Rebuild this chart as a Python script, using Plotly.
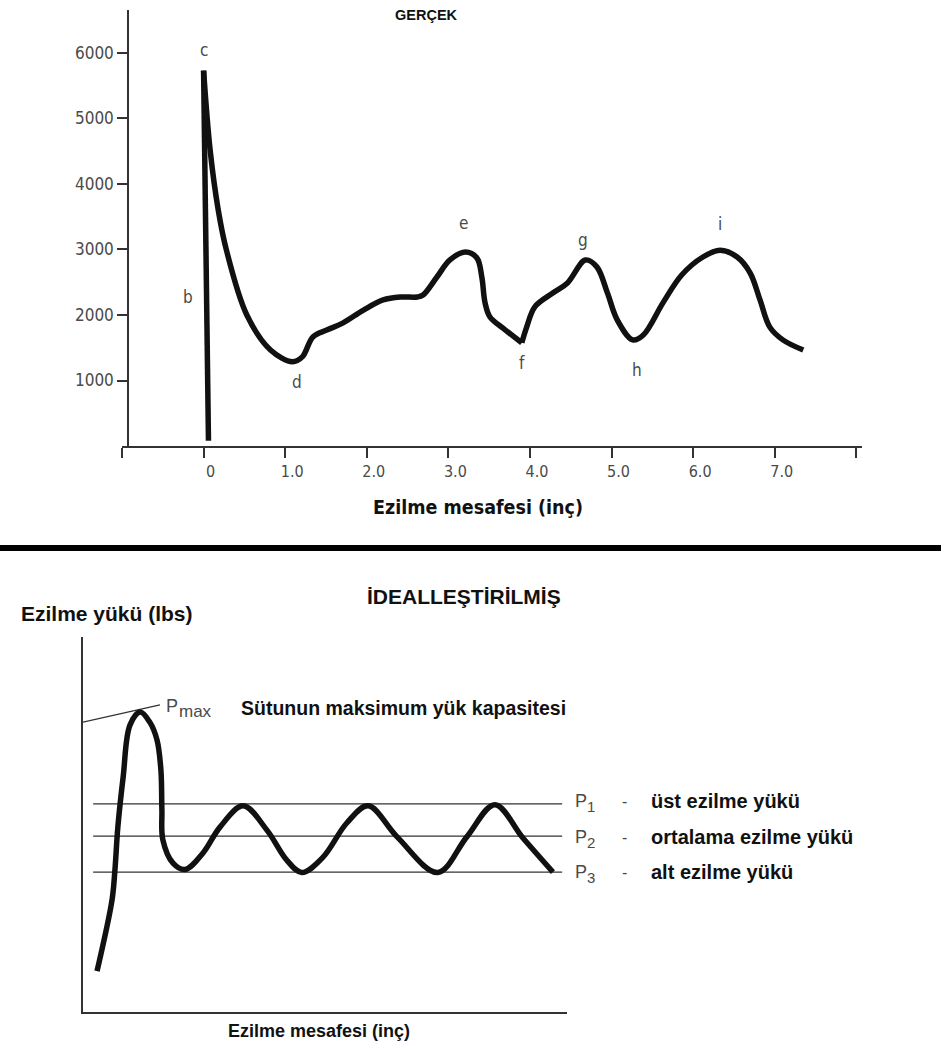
import plotly.graph_objects as go

# ---------------- data: measured crush test (upper panel) ----------------
# elastic rise b: from the start of the stroke up to the peak load c
rise_x = [0.06, 0.0]
rise_y = [80, 5730]

# collapse from c through d and e down to f
fold1_x = [0.0, 0.08, 0.18, 0.28, 0.53, 0.82, 1.09, 1.21,
           1.34, 1.51, 1.71, 1.96, 2.20, 2.41, 2.62, 2.69, 2.86, 3.02, 3.21, 3.35,
           3.41, 3.45, 3.51, 3.67, 3.90]
fold1_y = [5730, 4520, 3600, 2990, 2000, 1465, 1285, 1360,
           1665, 1770, 1880, 2075, 2230, 2275, 2275, 2305, 2580, 2840, 2960, 2870,
           2580, 2185, 1970, 1800, 1575]

# from f through g, h and i to the end of the stroke
fold2_x = [3.90, 3.96, 4.06, 4.28, 4.46, 4.68, 4.82, 4.95, 5.07, 5.26, 5.39, 5.63,
           5.86, 6.12, 6.33, 6.54, 6.70, 6.82, 6.94, 7.10, 7.35]
fold2_y = [1575, 1815, 2125, 2335, 2490, 2840, 2735, 2335, 1925, 1620, 1695, 2185,
           2610, 2885, 2990, 2885, 2640, 2230, 1815, 1620, 1465]

# point letters and where they sit
point_names = ["c", "b", "d", "e", "f", "g", "h", "i"]
point_x = [0.0, -0.19, 1.15, 3.18, 3.90, 4.65, 5.31, 6.33]
point_y = [6050, 2275, 980, 3405, 1265, 3145, 1160, 3390]

x_tick_vals = [0, 1, 2, 3, 4, 5, 6, 7]
x_tick_text = ["0", "1.0", "2.0", "3.0", "4.0", "5.0", "6.0", "7.0"]
y_tick_vals = [1000, 2000, 3000, 4000, 5000, 6000]
y_tick_text = ["1000", "2000", "3000", "4000", "5000", "6000"]

# ---------------- data: idealised curve (lower panel, arbitrary units) ----------------
ideal_x = [2.9, 6.0, 6.6, 7.2, 8.3, 9.7, 11.8, 13.8, 15.3, 16.1, 16.3, 16.5, 18.6,
           21.1, 24.8, 28.3, 33.1, 38.0, 42.1, 45.2, 49.6, 54.5, 58.9, 64.9, 73.3,
           79.3, 85.1, 90.9, 97.1]
ideal_y = [10.9, 29.9, 37.9, 49.3, 62.7, 76.5, 80.0, 77.3, 72.5, 64.5, 53.9, 45.9,
           39.7, 38.0, 42.4, 49.3, 55.0, 48.5, 40.5, 37.2, 41.3, 50.4, 55.0, 46.7,
           37.2, 46.7, 55.3, 46.4, 37.3]

level_subs = ["1", "2", "3"]
level_desc = ["üst ezilme yükü", "ortalama ezilme yükü", "alt ezilme yükü"]
level_y = [55.5, 46.9, 37.3]
level_x = [2.1, 99.0]

pmax_x = [0.0, 15.9]
pmax_y = [77.3, 81.9]

# ---------------- styling ----------------
NARROW = "Liberation Sans Narrow, Arial Narrow, DejaVu Sans Condensed, sans-serif"
ARIAL = "Liberation Sans, Arial, sans-serif"
INK = "#111111"
AXIS = "#333333"
TEXT = "#4a4a4a"

W, H = 941, 1052


def px(x):
    return x / W


def py(y):
    return 1 - y / H


fig = go.Figure()

curve_line = dict(color=INK, width=5.5)
fig.add_trace(go.Scatter(x=rise_x, y=rise_y, mode="lines", line=curve_line,
                         xaxis="x", yaxis="y"))
fig.add_trace(go.Scatter(x=fold1_x, y=fold1_y, mode="lines",
                         line=dict(curve_line, shape="spline", smoothing=1.0),
                         xaxis="x", yaxis="y"))
fig.add_trace(go.Scatter(x=fold2_x, y=fold2_y, mode="lines",
                         line=dict(curve_line, shape="spline", smoothing=1.0),
                         xaxis="x", yaxis="y"))

# idealised panel: reference levels, tangent at Pmax and the curve
for ly in level_y:
    fig.add_trace(go.Scatter(x=level_x, y=[ly, ly], mode="lines",
                             line=dict(color=AXIS, width=1.2),
                             xaxis="x2", yaxis="y2"))
fig.add_trace(go.Scatter(x=pmax_x, y=pmax_y, mode="lines",
                         line=dict(color=AXIS, width=1.4),
                         xaxis="x2", yaxis="y2"))
fig.add_trace(go.Scatter(x=ideal_x, y=ideal_y, mode="lines",
                         line=dict(color=INK, width=5.5, shape="spline", smoothing=1.0),
                         xaxis="x2", yaxis="y2"))

annotations = []
for name, x, y in zip(point_names, point_x, point_y):
    annotations.append(dict(x=x, y=y, xref="x", yref="y", text=name, showarrow=False,
                            yanchor="middle",
                            font=dict(family=NARROW, size=17, color=TEXT)))


def label(x, y, text, size, color=INK, family=ARIAL, anchor="center"):
    return dict(x=px(x), y=py(y), xref="paper", yref="paper", xanchor=anchor,
                yanchor="middle", text=text, showarrow=False,
                font=dict(family=family, size=size, color=color))


# titles and labels
annotations += [
    label(426, 15, "<b>GERÇEK</b>", 14.5),
    label(478, 507, "<b>Ezilme mesafesi (inç)</b>", 19.5, family=NARROW),
    label(464, 596, "<b>İDEALLEŞTİRİLMİŞ</b>", 21),
    label(19, 613, "<b>Ezilme yükü (lbs)</b>", 21, anchor="left"),
    label(319, 1031, "<b>Ezilme mesafesi (inç)</b>", 18),
    label(164, 706, "P", 18, TEXT, anchor="left"),
    label(177, 711, "max", 17, TEXT, anchor="left"),
    label(239, 708, "<b>Sütunun maksimum yük kapasitesi</b>", 19.5, anchor="left"),
]
for sub, desc, yy in zip(level_subs, level_desc, [801, 837, 872]):
    annotations += [
        label(573, yy, "P", 18, TEXT, anchor="left"),
        label(585, yy + 5, sub, 15, TEXT, anchor="left"),
        label(624, yy, "-", 16, TEXT),
        label(649, yy, "<b>" + desc + "</b>", 20, anchor="left"),
    ]

fig.update_layout(
    width=W, height=H,
    margin=dict(l=0, r=0, t=0, b=0),
    paper_bgcolor="white", plot_bgcolor="white",
    showlegend=False,
    annotations=annotations,
    shapes=[dict(type="line", xref="paper", yref="paper", x0=0, x1=1,
                 y0=py(548), y1=py(548), line=dict(color="black", width=6))],
    xaxis=dict(domain=[px(122), px(862)], range=[-1.0, 8.07], anchor="y",
               showline=True, linecolor=AXIS, linewidth=1.5,
               ticks="outside", ticklen=10, tickwidth=1.5, tickcolor=AXIS,
               tickvals=x_tick_vals, ticktext=x_tick_text, ticklabelshift=7,
               minor=dict(ticks="outside", ticklen=10, tickwidth=1.5, tickcolor=AXIS,
                          tick0=-1, dtick=1),
               tickfont=dict(family=NARROW, size=16, color=TEXT),
               showgrid=False, zeroline=False, fixedrange=True),
    yaxis=dict(domain=[py(446), py(10)], range=[0, 6656], anchor="free",
               position=px(128),
               showline=True, linecolor=AXIS, linewidth=1.5,
               ticks="outside", ticklen=10, tickwidth=1.5, tickcolor=AXIS,
               tickvals=y_tick_vals, ticktext=y_tick_text,
               tickfont=dict(family=NARROW, size=17, color=TEXT),
               showgrid=False, zeroline=False, fixedrange=True),
    xaxis2=dict(domain=[px(83), px(567)], range=[0, 100], anchor="y2",
                showline=True, linecolor=AXIS, linewidth=1.5,
                showticklabels=False, ticks="", showgrid=False, zeroline=False),
    yaxis2=dict(domain=[py(1012), py(637)], range=[0, 100], anchor="x2",
                showline=True, linecolor=AXIS, linewidth=1.5,
                showticklabels=False, ticks="", showgrid=False, zeroline=False),
)

fig.write_html("out.html")
